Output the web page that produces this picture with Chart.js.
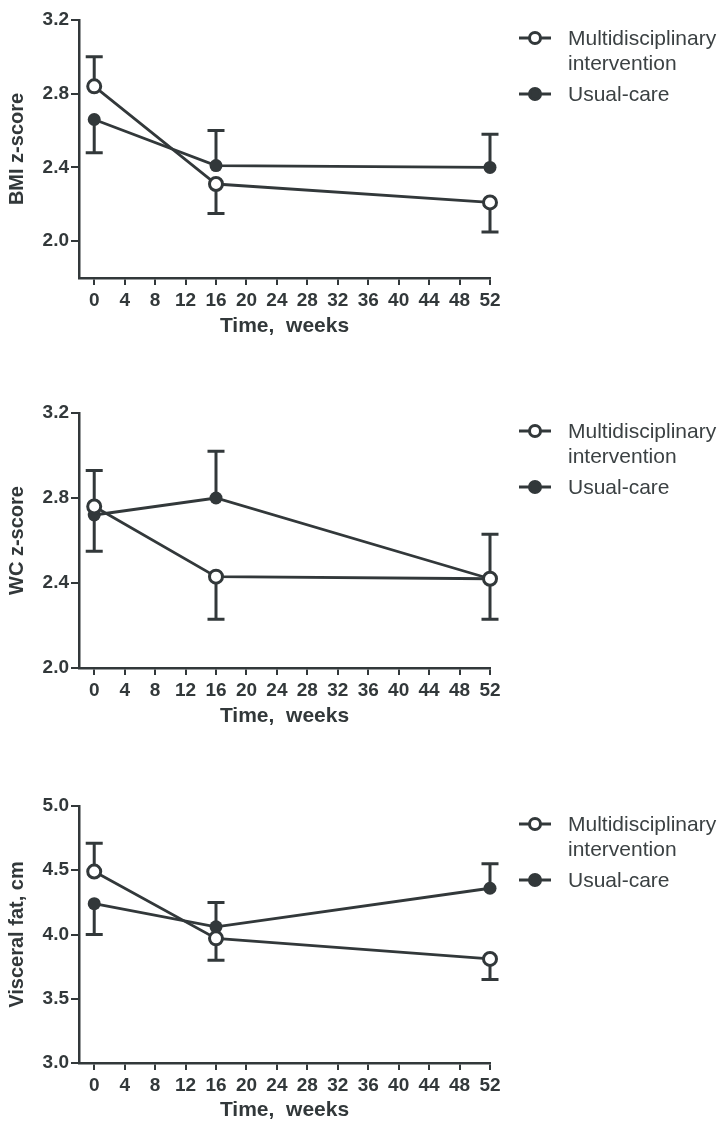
<!DOCTYPE html>
<html lang="en">
<head>
  <meta charset="UTF-8" />
  <title>BMI, WC and visceral fat over time</title>
  <script src="https://cdn.jsdelivr.net/npm/chart.js"></script>
  <style>
    body { margin: 0; background: #fff; width: 726px; height: 1124px; overflow: hidden; position: relative;
           font-family: "Liberation Sans", Arial, sans-serif; }
    .panel { position: absolute; left: 0; width: 726px; }
    .panel canvas { position: absolute; left: 0; top: 0; }
    .legend { position: absolute; left: 518px; color: #3b4143; font-size: 21px; }
    .legend .row { position: absolute; left: 0; white-space: nowrap; height: 24px; line-height: 24px; }
    .legend svg { position: absolute; left: 0; top: 4px; }
    .legend span { position: absolute; left: 50px; top: 0; }
  </style>
</head>
<body>
  <div class="panel" id="p1" style="top:0;height:340px"><canvas id="bmiChart" width="520" height="340"></canvas></div>
  <div class="panel" id="p2" style="top:380px;height:350px"><canvas id="wcChart" width="520" height="350"></canvas></div>
  <div class="panel" id="p3" style="top:770px;height:354px"><canvas id="visChart" width="520" height="354"></canvas></div>

  <script>
    // time points and axis ticks
    const weeks = [0, 16, 52];
    const xTicks = [0, 4, 8, 12, 16, 20, 24, 28, 32, 36, 40, 44, 48, 52];

    // BMI z-score (bar = end of the error bar)
    const bmiTicks = [2.0, 2.4, 2.8, 3.2];
    const bmiMulti = [2.84, 2.31, 2.21];
    const bmiMultiBar = [3.00, 2.15, 2.05];
    const bmiUsual = [2.66, 2.41, 2.40];
    const bmiUsualBar = [2.48, 2.60, 2.58];

    // WC z-score
    const wcTicks = [2.0, 2.4, 2.8, 3.2];
    const wcMulti = [2.76, 2.43, 2.42];
    const wcMultiBar = [2.93, 2.23, 2.23];
    const wcUsual = [2.72, 2.80, 2.42];
    const wcUsualBar = [2.55, 3.02, 2.63];

    // Visceral fat, cm
    const visTicks = [3.0, 3.5, 4.0, 4.5, 5.0];
    const visMulti = [4.49, 3.97, 3.81];
    const visMultiBar = [4.71, 3.80, 3.65];
    const visUsual = [4.24, 4.06, 4.36];
    const visUsualBar = [4.00, 4.25, 4.55];

    const seriesNames = ["Multidisciplinary intervention", "Usual-care"];
    const ink = "#32383a";

    Chart.defaults.font.family = '"Liberation Sans", Arial, sans-serif';
    Chart.defaults.color = ink;

    // vertical error bars with caps, drawn under the markers
    const errorBars = {
      id: "errorBars",
      beforeDatasetsDraw(chart) {
        const { ctx, scales: { x, y } } = chart;
        ctx.save();
        ctx.strokeStyle = ink;
        ctx.lineWidth = 3;
        chart.data.datasets.forEach(ds => {
          ds.bars.forEach((end, i) => {
            const px = x.getPixelForValue(weeks[i]);
            const py = y.getPixelForValue(ds.data[i].y);
            const pe = y.getPixelForValue(end);
            ctx.beginPath();
            ctx.moveTo(px, py);
            ctx.lineTo(px, pe);
            ctx.moveTo(px - 8.5, pe);
            ctx.lineTo(px + 8.5, pe);
            ctx.stroke();
          });
        });
        ctx.restore();
      }
    };

    function points(vals) {
      return weeks.map((w, i) => ({ x: w, y: vals[i] }));
    }

    function makePanel(id, yTitle, yTicks, yMin, yMax, multi, multiBar, usual, usualBar, top, xh) {
      new Chart(document.getElementById(id), {
        type: "line",
        data: {
          datasets: [
            {
              label: seriesNames[0], data: points(multi), bars: multiBar,
              borderColor: ink, borderWidth: 2.8, clip: false,
              pointRadius: 6.5, pointBorderWidth: 3, pointBackgroundColor: "#fff", pointBorderColor: ink
            },
            {
              label: seriesNames[1], data: points(usual), bars: usualBar,
              borderColor: ink, borderWidth: 2.8, clip: false,
              pointRadius: 6.5, pointBorderWidth: 0, pointBackgroundColor: ink, pointBorderColor: ink
            }
          ]
        },
        options: {
          responsive: false,
          animation: false,
          layout: { padding: { top: top, right: 30, left: 0, bottom: 0 } },
          plugins: { legend: { display: false }, tooltip: { enabled: false } },
          scales: {
            x: {
              type: "linear", min: -2, max: 52,
              afterBuildTicks: s => { s.ticks = xTicks.map(v => ({ value: v })); },
              afterFit: s => { s.height = xh; },
              grid: { drawOnChartArea: false, drawTicks: true, tickLength: 7, color: ink, lineWidth: 2 },
              border: { display: true, color: ink, width: 2.5 },
              ticks: { color: ink, font: { size: 19, weight: "bold" }, padding: 4, maxRotation: 0, autoSkip: false },
              title: { display: true, text: "Time,  weeks", color: ink, font: { size: 21, weight: "bold" },
                       padding: { top: 0, bottom: 1 } }
            },
            y: {
              min: yMin, max: yMax,
              afterBuildTicks: s => { s.ticks = yTicks.map(v => ({ value: v })); },
              afterFit: s => { s.width = 79; },
              grid: { drawOnChartArea: false, drawTicks: true, tickLength: 8, color: ink, lineWidth: 2 },
              border: { display: true, color: ink, width: 2.5 },
              ticks: { color: ink, font: { size: 19, weight: "bold" }, padding: 2, callback: v => v.toFixed(1) },
              title: { display: true, text: yTitle, color: ink, font: { size: 20, weight: "bold" },
                       padding: { top: 5, bottom: 0 } }
            }
          }
        },
        plugins: [errorBars]
      });
    }

    function marker(filled) {
      return '<svg width="34" height="16" viewBox="0 0 34 16">' +
        '<line x1="1" y1="8" x2="33" y2="8" stroke="' + ink + '" stroke-width="3"/>' +
        '<circle cx="17" cy="8" r="5.5" stroke="' + ink + '" stroke-width="3" fill="' + (filled ? ink : "#fff") + '"/></svg>';
    }

    function makeLegend(panelId, chartTop) {
      const box = document.createElement("div");
      box.className = "legend";
      box.style.top = chartTop + "px";
      box.innerHTML =
        '<div class="row" style="top:6px">' + marker(false) + '<span>Multidisciplinary</span></div>' +
        '<div class="row" style="top:31px"><span>intervention</span></div>' +
        '<div class="row" style="top:62px">' + marker(true) + '<span>Usual-care</span></div>';
      document.getElementById(panelId).appendChild(box);
    }

    makePanel("bmiChart", "BMI z-score", bmiTicks, 1.8, 3.2, bmiMulti, bmiMultiBar, bmiUsual, bmiUsualBar, 20, 62);
    makePanel("wcChart", "WC z-score", wcTicks, 2.0, 3.2, wcMulti, wcMultiBar, wcUsual, wcUsualBar, 33, 62);
    makePanel("visChart", "Visceral fat, cm", visTicks, 3.0, 5.0, visMulti, visMultiBar, visUsual, visUsualBar, 36, 61);

    makeLegend("p1", 20);
    makeLegend("p2", 33);
    makeLegend("p3", 36);
  </script>
</body>
</html>
